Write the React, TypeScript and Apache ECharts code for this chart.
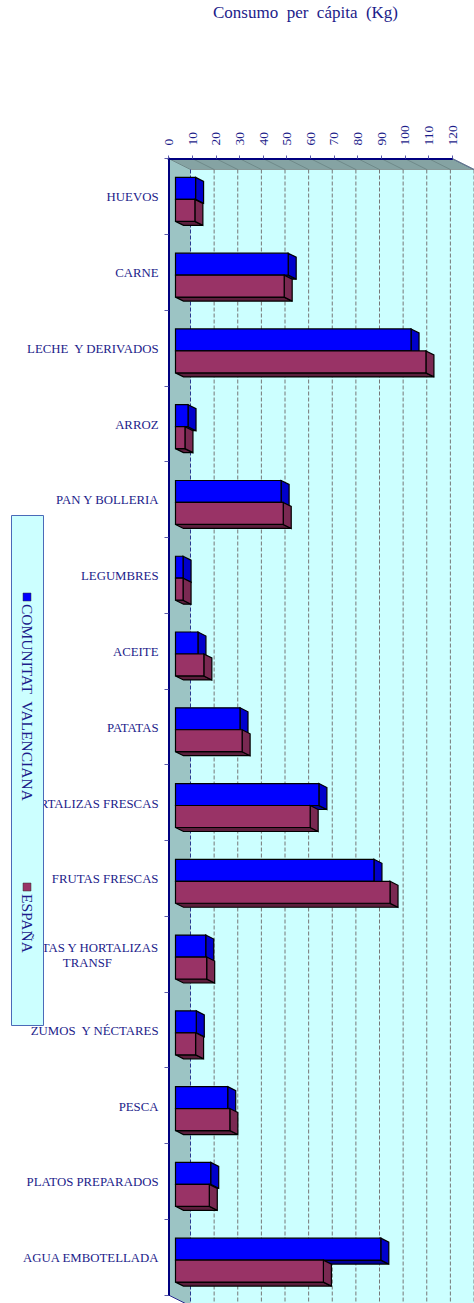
import React, { useEffect, useRef } from "react";
import * as echarts from "echarts";

const categories = [
  "HUEVOS", "CARNE", "LECHE  Y DERIVADOS", "ARROZ", "PAN Y BOLLERIA", "LEGUMBRES", "ACEITE", "PATATAS",
  "HORTALIZAS FRESCAS", "FRUTAS FRESCAS", "FRUTAS Y HORTALIZAS\nTRANSF", "ZUMOS  Y NÉCTARES", "PESCA",
  "PLATOS PREPARADOS", "AGUA EMBOTELLADA",
];
const comunitat = [8.5, 47.7, 99.7, 5.3, 44.7, 3.2, 9.5, 27.3, 60.7, 84, 12.8, 8.8, 22.1, 14.9, 86.9];
const espana = [8.2, 46, 106, 4, 45.6, 3.2, 12, 28.2, 57, 90.8, 13.2, 8.5, 23, 14.3, 62.6];
const ticks = [0, 10, 20, 30, 40, 50, 60, 70, 80, 90, 100, 110, 120];
const seriesNames = ["COMUNITAT  VALENCIANA", "ESPAÑA"];
const titleText = "Consumo  per  cápita  (Kg)";

const NAVY = "#1c1c8a";
const FONT = '"Liberation Serif", "Times New Roman", serif';

function barRender(front: string, side: string, bottom: string, slot: number) {
  return (params: any, api: any) => {
    const idx = api.value(1);
    const val = api.value(0);
    const band = api.size([0, 1])[1];
    const h = band * 0.29;
    const p0 = api.coord([0, idx]);
    const p1 = api.coord([val, idx]);
    const ox = 7;
    const dx = 8;
    const dy = 4;
    const x0 = p0[0] + ox;
    const x1 = p1[0] + ox;
    const yTop = p0[1] + 3 + (slot === 0 ? -h : 0);
    const yBot = yTop + h;
    const line = { stroke: "#000", lineWidth: 1.2 };
    return {
      type: "group",
      children: [
        { type: "polygon", shape: { points: [[x0, yBot], [x1, yBot], [x1 + dx, yBot + dy], [x0 + dx, yBot + dy]] }, style: { fill: bottom, ...line } },
        { type: "polygon", shape: { points: [[x1, yTop], [x1 + dx, yTop + dy], [x1 + dx, yBot + dy], [x1, yBot]] }, style: { fill: side, ...line } },
        { type: "rect", shape: { x: x0, y: yTop, width: x1 - x0, height: h }, style: { fill: front, ...line } },
      ],
    };
  };
}

function wallRender(params: any, api: any) {
  const cs = params.coordSys;
  const dx = 22;
  const dy = 11;
  const left = cs.x;
  const top = cs.y;
  const right = cs.x + cs.width;
  const bottom = cs.y + cs.height;
  const children: any[] = [
    { type: "rect", shape: { x: left + dx, y: top + dy, width: cs.width + 2, height: cs.height + 2 }, style: { fill: "#ccffff" } },
    { type: "polygon", shape: { points: [[left, top], [left + dx, top + dy], [left + dx, bottom + dy], [left, bottom]] }, style: { fill: "#9cc4c4" } },
    { type: "polygon", shape: { points: [[left, top], [right, top], [right + dx, top + dy], [left + dx, top + dy]] }, style: { fill: "#85a3a3" } },
    { type: "line", shape: { x1: left + dx, y1: top + dy, x2: right + dx, y2: top + dy }, style: { stroke: "#8a9a9a", lineWidth: 1 } },
    { type: "line", shape: { x1: right, y1: top, x2: right + dx, y2: top + dy }, style: { stroke: "#2a2a90", lineWidth: 1 } },
    { type: "line", shape: { x1: left, y1: bottom, x2: left + dx, y2: bottom + dy }, style: { stroke: "#2a2a90", lineWidth: 1 } },
  ];
  ticks.forEach((t) => {
    const x = api.coord([t, 0])[0];
    children.push({
      type: "line",
      shape: { x1: x, y1: top, x2: x + dx, y2: top + dy },
      style: { stroke: "#6f8a8a", lineWidth: 1 },
    });
    children.push({
      type: "line",
      shape: { x1: x + dx, y1: top + dy, x2: x + dx, y2: bottom + dy },
      style: { stroke: t === 0 ? "#2a3a90" : "#777777", lineWidth: 1, lineDash: [4, 2] },
    });
  });
  return { type: "group", children };
}

export default function App() {
  const ref = useRef<HTMLDivElement>(null);
  useEffect(() => {
    const chart = echarts.init(ref.current!, null, { renderer: "svg" });
    const legendText = (text: string, y: number) => ({
      type: "text",
      x: 27,
      y,
      rotation: -Math.PI / 2,
      z: 101,
      style: { text, fill: NAVY, font: `15.5px ${FONT}`, textAlign: "left", textVerticalAlign: "middle" },
    });
    chart.setOption({
      animation: false,
      backgroundColor: "#ffffff",
      title: {
        text: titleText,
        left: 300.5,
        top: -1,
        textAlign: "center",
        textStyle: { color: NAVY, fontFamily: FONT, fontSize: 17, fontWeight: "normal" },
      },
      grid: { left: 168.5, top: 158.5, width: 283.5, height: 1136.5, containLabel: false },
      xAxis: {
        type: "value",
        position: "top",
        min: 0,
        max: 120,
        interval: 10,
        z: 3,
        axisLine: { show: true, lineStyle: { color: "#000080", width: 2 } },
        axisTick: { show: true, length: 3, lineStyle: { color: "#5a5aaa" } },
        splitLine: { show: false },
        axisLabel: { rotate: -90, margin: 13, color: NAVY, fontFamily: FONT, fontSize: 13.5, showMinLabel: true, showMaxLabel: true, hideOverlap: false },
      },
      yAxis: {
        type: "category",
        inverse: true,
        data: categories,
        z: 3,
        axisLine: { show: true, lineStyle: { color: "#000080", width: 2 } },
        axisTick: { show: true, length: 4, lineStyle: { color: "#5a5aaa" } },
        splitLine: { show: false },
        axisLabel: {
          interval: 0,
          margin: 10,
          color: NAVY,
          fontFamily: FONT,
          fontSize: 12.8,
          padding: [2, 0, 0, 0],
          formatter: (v: string) => {
            const parts = v.split("\n");
            return parts.length > 1 ? parts.map((p) => `{c|${p}}`).join("\n") : v;
          },
          rich: { c: { align: "center", color: NAVY, fontFamily: FONT, fontSize: 12.8, lineHeight: 15 } },
        },
      },
      series: [
        { type: "custom", name: "walls", z: 1, silent: true, renderItem: wallRender, data: [[0, 0]], encode: { x: 0, y: 1 } },
        {
          type: "custom", name: seriesNames[0], z: 4, silent: true,
          renderItem: barRender("#0000ff", "#0000cc", "#000099", 0),
          data: comunitat.map((v, i) => [v, i]), encode: { x: 0, y: 1 },
        },
        {
          type: "custom", name: seriesNames[1], z: 5, silent: true,
          renderItem: barRender("#993366", "#7a2952", "#5c1f3d", 1),
          data: espana.map((v, i) => [v, i]), encode: { x: 0, y: 1 },
        },
      ],
      graphic: [
        { type: "rect", z: 100, shape: { x: 11.5, y: 515.5, width: 32, height: 510 }, style: { fill: "#ccffff", stroke: "#4a6ab8", lineWidth: 1 } },
        { type: "rect", z: 101, shape: { x: 23, y: 593, width: 8, height: 8 }, style: { fill: "#0000ff", stroke: "#333", lineWidth: 0.5 } },
        { type: "rect", z: 101, shape: { x: 23, y: 883, width: 8, height: 8 }, style: { fill: "#993366", stroke: "#333", lineWidth: 0.5 } },
        legendText(seriesNames[0], 604),
        legendText(seriesNames[1], 894),
      ],
    });
    return () => chart.dispose();
  }, []);
  return <div ref={ref} style={{ position: "absolute", left: 0, top: 0, width: 474, height: 1303 }} />;
}
